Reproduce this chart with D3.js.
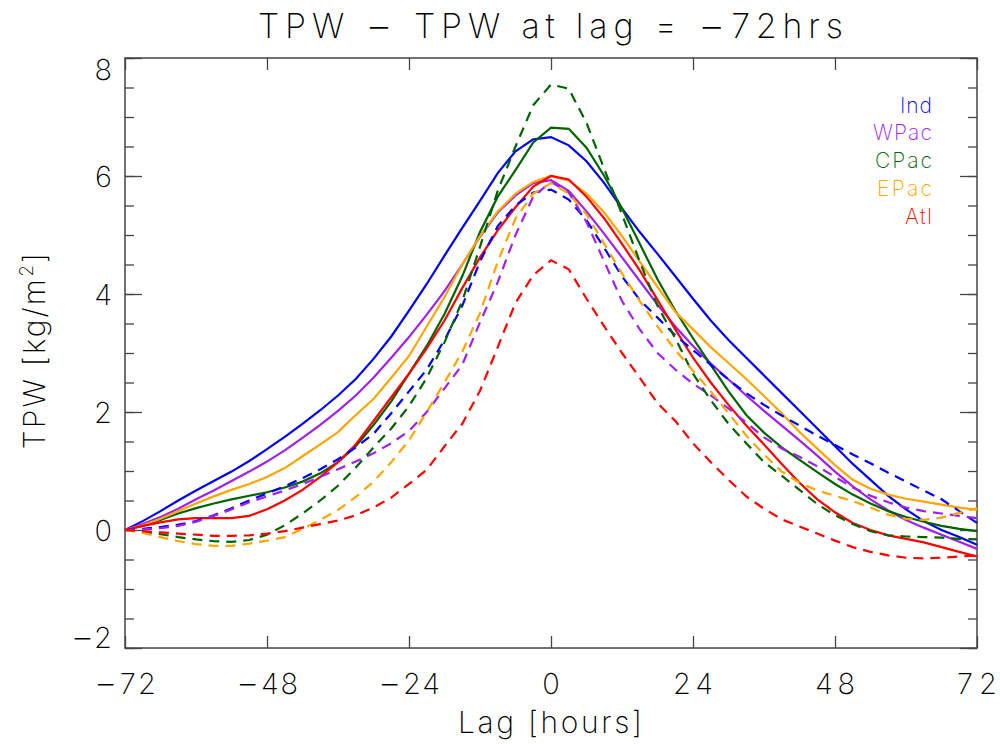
<!DOCTYPE html>
<html>
<head>
<meta charset="utf-8">
<script src="https://cdn.jsdelivr.net/npm/d3@7"></script>
<style>
  html, body { margin: 0; padding: 0; background: #fff; }
  svg text { font-family: "Inter", "Noto Sans", sans-serif; font-weight: 200; fill: #000; }
</style>
</head>
<body>
<svg id="chart" width="1000" height="744"></svg>
<script>
// ---------------- data ----------------
const lags = d3.range(-72, 73, 3); // -72 .. 72 every 3 hours

const regions = ["Ind", "WPac", "CPac", "EPac", "Atl"];
const colors  = ["#0000ff", "#a020f0", "#006400", "#ffa500", "#ff0000"];

// solid lines
const indSolid = [0.00,0.15,0.32,0.50,0.67,0.83,0.99,1.17,1.37,1.58,1.80,2.03,2.28,2.56,2.90,3.28,3.72,4.17,4.65,5.12,5.58,6.05,6.42,6.62,6.66,6.52,6.25,5.88,5.45,5.05,4.68,4.30,3.92,3.55,3.22,2.92,2.62,2.32,2.02,1.72,1.42,1.12,0.85,0.58,0.35,0.15,0.00,-0.12,-0.25];
const wpacSolid = [0.00,0.10,0.22,0.36,0.52,0.67,0.83,0.99,1.16,1.35,1.56,1.78,2.02,2.28,2.58,2.92,3.27,3.65,4.05,4.50,4.97,5.38,5.67,5.88,5.93,5.75,5.40,5.02,4.62,4.22,3.82,3.45,3.12,2.82,2.55,2.28,2.02,1.77,1.52,1.26,0.99,0.74,0.52,0.33,0.17,0.04,-0.08,-0.20,-0.32];
const cpacSolid = [0.00,0.07,0.17,0.28,0.37,0.45,0.52,0.58,0.64,0.72,0.82,0.96,1.15,1.42,1.78,2.18,2.65,3.12,3.66,4.30,5.05,5.65,6.10,6.57,6.82,6.80,6.48,6.00,5.45,4.85,4.25,3.72,3.25,2.80,2.35,1.95,1.65,1.40,1.19,0.98,0.78,0.60,0.45,0.32,0.22,0.14,0.07,0.02,-0.02];
const epacSolid = [0.00,0.08,0.19,0.32,0.45,0.57,0.68,0.78,0.90,1.05,1.25,1.45,1.66,1.95,2.22,2.58,2.95,3.45,3.95,4.50,4.98,5.40,5.70,5.90,6.00,5.92,5.70,5.38,4.98,4.55,4.12,3.70,3.40,3.10,2.83,2.56,2.27,1.98,1.66,1.38,1.10,0.85,0.70,0.60,0.53,0.48,0.43,0.38,0.34];
const atlSolid = [0.00,0.07,0.13,0.18,0.20,0.20,0.20,0.24,0.35,0.50,0.68,0.90,1.15,1.45,1.85,2.25,2.65,3.08,3.55,4.10,4.62,5.08,5.47,5.82,6.00,5.94,5.65,5.28,4.85,4.40,3.90,3.40,2.92,2.50,2.12,1.77,1.45,1.12,0.80,0.52,0.30,0.12,0.00,-0.09,-0.15,-0.21,-0.29,-0.37,-0.45];

// dashed lines
const indDash = [0.00,0.02,0.05,0.09,0.15,0.25,0.37,0.50,0.62,0.74,0.88,1.03,1.20,1.40,1.63,1.98,2.35,2.72,3.22,3.80,4.55,5.15,5.50,5.72,5.77,5.60,5.25,4.78,4.30,3.90,3.60,3.30,3.05,2.80,2.55,2.32,2.12,1.94,1.77,1.60,1.44,1.28,1.13,0.97,0.82,0.67,0.52,0.32,0.12];
const wpacDash = [0.00,0.01,0.03,0.07,0.14,0.24,0.35,0.47,0.57,0.67,0.78,0.90,1.03,1.16,1.30,1.47,1.68,2.00,2.40,2.80,3.52,4.20,5.00,5.65,5.90,5.72,5.22,4.55,3.88,3.40,3.00,2.72,2.48,2.28,2.06,1.82,1.57,1.38,1.24,1.08,0.90,0.72,0.58,0.47,0.38,0.32,0.28,0.24,0.20];
const cpacDash = [0.00,-0.03,-0.07,-0.12,-0.16,-0.19,-0.20,-0.17,-0.08,0.08,0.28,0.50,0.75,1.06,1.40,1.72,2.10,2.58,3.18,3.88,4.80,5.75,6.50,7.20,7.55,7.48,6.90,6.12,5.35,4.55,3.80,3.25,2.65,2.20,1.80,1.47,1.15,0.92,0.68,0.44,0.25,0.10,-0.02,-0.09,-0.11,-0.12,-0.13,-0.15,-0.16];
const epacDash = [0.00,-0.05,-0.12,-0.19,-0.24,-0.27,-0.27,-0.23,-0.18,-0.12,0.02,0.17,0.34,0.56,0.82,1.15,1.52,2.00,2.50,3.02,3.68,4.55,5.28,5.70,5.88,5.70,5.35,4.85,4.35,3.88,3.45,3.05,2.70,2.35,1.98,1.60,1.28,0.99,0.80,0.67,0.58,0.49,0.38,0.26,0.19,0.17,0.21,0.29,0.37];
const atlDash = [0.00,-0.02,-0.04,-0.06,-0.08,-0.10,-0.10,-0.09,-0.06,-0.02,0.04,0.10,0.16,0.25,0.38,0.55,0.78,1.02,1.42,1.80,2.36,3.10,3.85,4.32,4.57,4.42,3.92,3.45,3.00,2.58,2.15,1.85,1.47,1.15,0.85,0.57,0.36,0.18,0.06,-0.06,-0.18,-0.29,-0.37,-0.43,-0.47,-0.48,-0.47,-0.45,-0.43];

const solidSeries = [indSolid, wpacSolid, cpacSolid, epacSolid, atlSolid];
const dashSeries  = [indDash, wpacDash, cpacDash, epacDash, atlDash];

const xTicks = [-72, -48, -24, 0, 24, 48, 72];
const yTicks = [-2, 0, 2, 4, 6, 8];
const yMinorTicks = d3.range(-2, 8.01, 0.5);

const titleText = "TPW \u2212 TPW at lag = \u221272hrs";
const xLabel = "Lag [hours]";

// ---------------- drawing ----------------
const svg = d3.select("#chart");
const L = 125, R = 977, T = 58, B = 648;

const x = d3.scaleLinear().domain([-72, 72]).range([L, R]);
const y = d3.scaleLinear().domain([-2, 8]).range([B, T]);

const fmt = d => (d < 0 ? "\u2212" + Math.abs(d) : String(d));

// write a string into a text element, drawing each minus sign a little larger
function writeText(sel, str, size) {
  const parts = str.split("\u2212");
  const big = size * 1.25, shift = size * 0.05;
  parts.forEach((p, i) => {
    if (i > 0) {
      sel.append("tspan").attr("font-size", big).attr("dy", shift).text("\u2212");
      sel.append("tspan").attr("font-size", size).attr("dy", -shift).text(p);
    } else if (p.length) {
      sel.append("tspan").attr("font-size", size).text(p);
    }
  });
}

// axes (bottom / top / left / right)
const axisColor = "#444";
function styleAxis(g) {
  g.select(".domain").remove();
  g.selectAll("line").attr("stroke", axisColor).attr("stroke-width", 1.3);
}
svg.append("g").attr("transform", `translate(0,${B})`)
  .call(d3.axisBottom(x).tickValues(xTicks).tickSize(-12).tickFormat(""))
  .call(styleAxis);
svg.append("g").attr("transform", `translate(0,${T})`)
  .call(d3.axisTop(x).tickValues(xTicks).tickSize(-12).tickFormat(""))
  .call(styleAxis);
svg.append("g").attr("transform", `translate(${L},0)`)
  .call(d3.axisLeft(y).tickValues(yMinorTicks).tickSize(-9).tickFormat(""))
  .call(styleAxis);
svg.append("g").attr("transform", `translate(${L},0)`)
  .call(d3.axisLeft(y).tickValues(yTicks).tickSize(-17).tickFormat(""))
  .call(styleAxis);
svg.append("g").attr("transform", `translate(${R},0)`)
  .call(d3.axisRight(y).tickValues(yMinorTicks).tickSize(-9).tickFormat(""))
  .call(styleAxis);
svg.append("g").attr("transform", `translate(${R},0)`)
  .call(d3.axisRight(y).tickValues(yTicks).tickSize(-17).tickFormat(""))
  .call(styleAxis);

// frame
svg.append("rect").attr("x", L).attr("y", T).attr("width", R - L).attr("height", B - T)
  .attr("fill", "none").attr("stroke", axisColor).attr("stroke-width", 1.5);

// tick labels
svg.append("g").selectAll("text").data(xTicks).join("text")
  .attr("x", d => x(d)).attr("y", 694)
  .attr("text-anchor", "middle").attr("font-size", 29)
  .each(function(d) {
    const s = fmt(d), t = d3.select(this);
    if (s.length >= 3) t.attr("textLength", 62).attr("lengthAdjust", "spacing");
    else if (s.length === 2) t.attr("textLength", 40).attr("lengthAdjust", "spacing");
    writeText(t, s, 29);
  });
svg.append("g").selectAll("text").data(yTicks).join("text")
  .attr("x", 112)
  .attr("y", d => y(d) + (d === -2 ? 0 : d === 8 ? 22 : 10.5))
  .attr("text-anchor", "end").attr("font-size", 29)
  .each(function(d) { writeText(d3.select(this), fmt(d), 29); });

// title and axis labels
const title = svg.append("text").attr("x", 550.5).attr("y", 38).attr("text-anchor", "middle")
  .attr("font-size", 34).attr("textLength", 585).attr("lengthAdjust", "spacing");
writeText(title, titleText, 34);
svg.append("text").attr("x", 550).attr("y", 733).attr("text-anchor", "middle")
  .attr("font-size", 30).attr("textLength", 184).attr("lengthAdjust", "spacing")
  .text(xLabel);
const yl = svg.append("text").attr("transform", "translate(45,350) rotate(-90)")
  .attr("text-anchor", "middle").attr("font-size", 30).style("letter-spacing", "2.2px");
yl.append("tspan").text("TPW [kg/m");
yl.append("tspan").attr("font-size", 19).attr("dy", -12).text("2");
yl.append("tspan").attr("dy", 12).text("]");

// lines
const line = d3.line().x((d, i) => x(lags[i])).y(d => y(d));
const gLines = svg.append("g");
solidSeries.forEach((s, k) => {
  gLines.append("path").datum(s).attr("d", line)
    .attr("fill", "none").attr("stroke", colors[k]).attr("stroke-width", 2.2);
});
dashSeries.forEach((s, k) => {
  gLines.append("path").datum(s).attr("d", line)
    .attr("fill", "none").attr("stroke", colors[k]).attr("stroke-width", 2.2)
    .attr("stroke-dasharray", "10,7");
});

// legend
const legendLen = [32, 59, 57, 55, 27];
svg.append("g").selectAll("text").data(regions).join("text")
  .attr("x", 932).attr("y", (d, i) => 112.5 + i * 27.8)
  .attr("text-anchor", "end").attr("font-size", 21)
  .attr("textLength", (d, i) => legendLen[i]).attr("lengthAdjust", "spacing")
  .style("fill", (d, i) => colors[i])
  .text(d => d);
</script>
</body>
</html>
